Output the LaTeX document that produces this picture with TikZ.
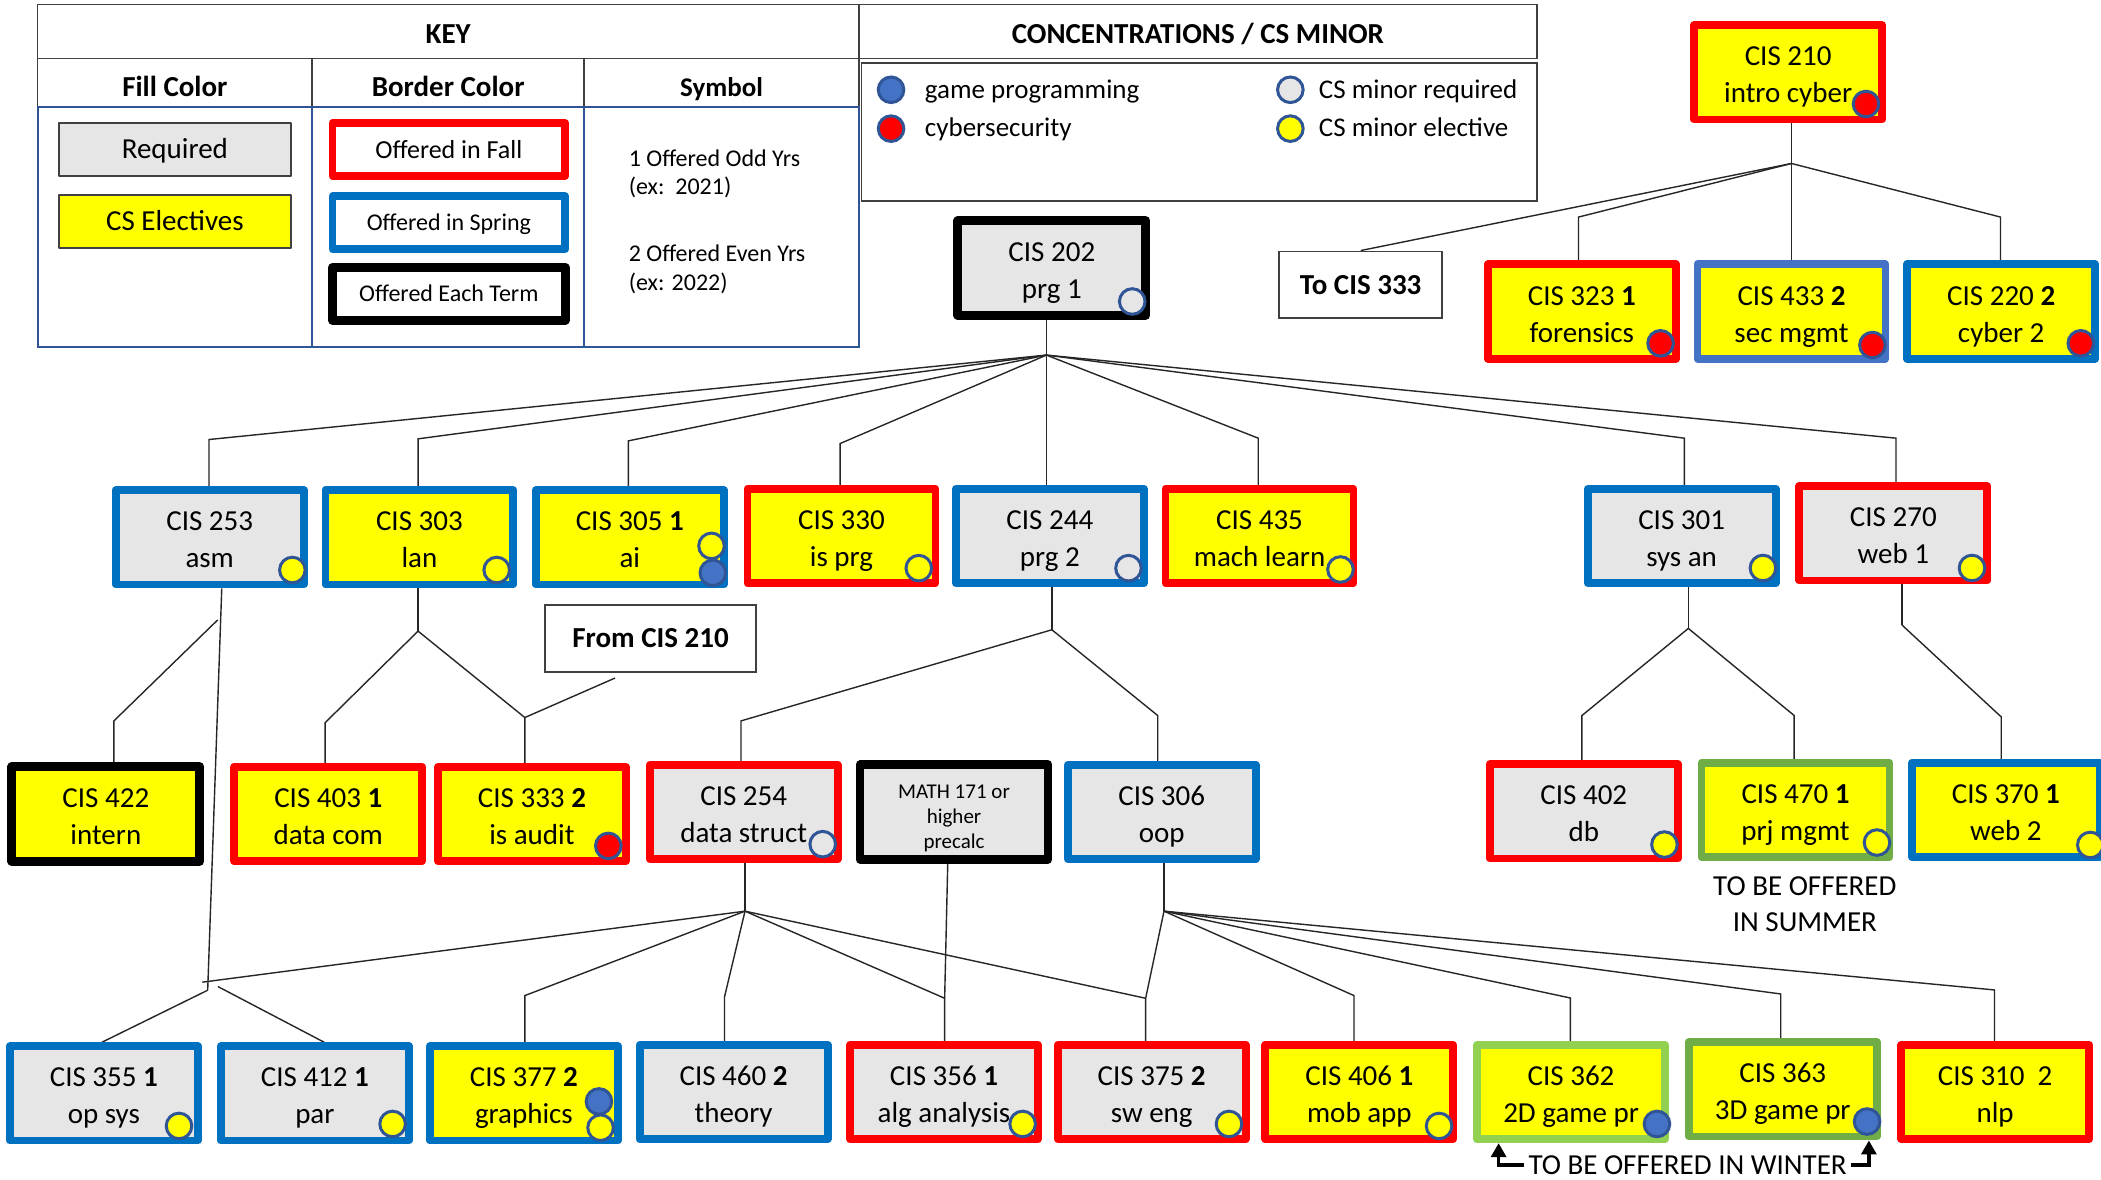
\documentclass[tikz,border=0pt]{standalone}
\usepackage{fontspec}
\setmainfont{Carlito}
\usetikzlibrary{arrows.meta,calc,backgrounds}
\definecolor{cred}{RGB}{255,0,0}
\definecolor{cblue}{RGB}{0,112,192}
\definecolor{cblue2}{RGB}{68,114,196}
\definecolor{cgreen}{RGB}{112,173,71}
\definecolor{clgreen}{RGB}{146,208,80}
\definecolor{cyel}{RGB}{255,255,0}
\definecolor{cgray}{RGB}{231,230,230}
\definecolor{cdotb}{RGB}{47,85,151}
\definecolor{cline}{RGB}{64,64,64}
\definecolor{ckeyb}{RGB}{47,85,151}
\newcommand\two[2]{\rule{0pt}{13pt}#1\\\smash{#2}\rule[-1pt]{0pt}{1pt}}
\newcommand\crs[6]{\node[cbox,#4] (#1) at (#2,#3) {\two{#5}{#6}};}
\begin{document}
\begin{tikzpicture}[x=0.67pt,y=-0.67pt,
  cbox/.style={rectangle, line width=3.9pt, line join=round, minimum width=94pt, minimum height=47.2pt, inner sep=0pt, align=center, font=\fontsize{14.5}{18.5}\selectfont},
  yel/.style={fill=cyel}, gry/.style={fill=cgray},
  bR/.style={draw=cred}, bB/.style={draw=cblue}, bB2/.style={draw=cblue2}, bK/.style={draw=black, line width=4.4pt}, bG/.style={draw=cgreen}, bLG/.style={draw=clgreen},
  dotbase/.style={circle, draw=cdotb, line width=1.5pt, minimum size=12.8pt, inner sep=0pt},
  dY/.style={dotbase, fill=cyel}, dB/.style={dotbase, fill=cblue2}, dR/.style={dotbase, fill=cred}, dG/.style={dotbase, fill=cgray},
  conn/.style={draw=black!85, line width=0.7pt},
  tline/.style={draw=cline, line width=0.8pt},
  bline/.style={draw=ckeyb, line width=1pt},
  lbl/.style={inner sep=0pt, anchor=base},
  lblw/.style={inner sep=0pt, anchor=base west},
  hfont/.style={font=\bfseries\fontsize{14.5}{17}\selectfont},
  keybox/.style={rectangle, minimum width=116.3pt, minimum height=26.5pt, inner sep=0pt, text height=9pt, text depth=0pt, line join=round, font=\fontsize{14.5}{17}\selectfont},
  tbox/.style={rectangle, draw=cline, line width=0.9pt, fill=white, font=\bfseries\fontsize{14.5}{17}\selectfont, inner sep=0pt, text height=9.3pt, text depth=0pt},
  warrow/.style={draw=black, line width=1.7pt, -{Triangle[length=7pt,width=7.5pt]}}
]
\useasboundingbox (0,0) rectangle (1568,880);

% ---------- KEY table ----------
\draw[tline] (28,3.5) rectangle (641,43.8);
\draw[tline] (28,43.8) rectangle (641,79.6);
\draw[tline] (233,43.8) -- (233,79.6) (436,43.8) -- (436,79.6);
\draw[bline] (28,79.6) rectangle (641,259);
\draw[bline] (233,79.6) -- (233,259) (436,79.6) -- (436,259);
\node[lbl,hfont] (tkey) at (334.5,32.3) {KEY};
\node[lbl,hfont] (tfill) at (130.5,72) {Fill Color};
\node[lbl,hfont] (tborder) at (334.5,72) {Border Color};
\node[lbl,font=\bfseries\fontsize{13.5}{16}\selectfont] (tsym) at (538.5,72) {Symbol};

\node[keybox, fill=cgray, draw=cline, line width=1pt] (kreq) at (130.5,111.7) {Required};
\node[keybox, fill=cyel, draw=cline, line width=1pt] (kele) at (130.5,165.5) {CS Electives};
\node[keybox, fill=white, draw=cred, line width=3.9pt, font=\fontsize{13}{16}\selectfont] (kfall) at (335,111.5) {Offered in Fall};
\node[keybox, fill=white, draw=cblue, line width=3.9pt, font=\fontsize{12}{15}\selectfont, text height=7.7pt] (kspr) at (335,166.3) {Offered in Spring};
\node[keybox, fill=white, draw=black, line width=4.4pt, font=\fontsize{12}{15}\selectfont, text height=7.7pt] (kterm) at (335,219.3) {Offered Each Term};

\node[lblw,font=\fontsize{12}{15}\selectfont] (s1) at (469,124) {1 Offered Odd Yrs};
\node[lblw,font=\fontsize{12}{15}\selectfont] (s2) at (469,145.5) {(ex:\ \ 2021)};
\node[lblw,font=\fontsize{12}{15}\selectfont] (s3) at (469,195.3) {2 Offered Even Yrs};
\node[lblw,font=\fontsize{12}{15}\selectfont] (s4) at (469,217) {(ex: 2022)};

% ---------- Concentrations ----------
\draw[tline] (641,3.5) rectangle (1147,43.8);
\draw[tline] (643,46.8) rectangle (1147,149.8);
\node[lbl,hfont] (tconc) at (894,32.3) {CONCENTRATIONS / CS MINOR};
\node[dB] (lg1) at (665,67) {};
\node[dR] (lg2) at (665,96) {};
\node[dG] (lg3) at (963,67) {};
\node[dY] (lg4) at (963,96) {};
\node[lblw,font=\fontsize{13.5}{16}\selectfont] (lt1) at (690,73.4) {game programming};
\node[lblw,font=\fontsize{13.5}{16}\selectfont] (lt2) at (690,102) {cybersecurity};
\node[lblw,font=\fontsize{13.5}{16}\selectfont] (lt3) at (984,73.4) {CS minor required};
\node[lblw,font=\fontsize{13.5}{16}\selectfont] (lt4) at (984,102) {CS minor elective};

% ---------- Course boxes ----------
\crs{n210}{1334.5}{54}{yel,bR}{CIS 210}{intro cyber}
\crs{n202}{785}{200}{gry,bK}{CIS 202}{prg 1}
\node[tbox, minimum width=81.5pt, minimum height=33.3pt] (to333) at (1015.5,212.5) {To CIS 333};
\crs{n323}{1180.5}{232.5}{yel,bR}{CIS 323 \textbf{1}}{forensics}
\crs{n433}{1337}{232.5}{yel,bB2}{CIS 433 \textbf{2}}{sec mgmt}
\crs{n220}{1493.5}{232.5}{yel,bB}{CIS 220 \textbf{2}}{cyber 2}

\crs{n253}{156.5}{401}{gry,bB}{CIS 253}{asm}
\crs{n303}{313}{401}{yel,bB}{CIS 303}{lan}
\crs{n305}{470}{401}{yel,bB}{CIS 305 \textbf{1}}{ai}
\crs{n330}{628}{400}{yel,bR}{CIS 330}{is prg}
\crs{n244}{783.5}{400}{gry,bB}{CIS 244}{prg 2}
\crs{n435}{940}{400}{yel,bR}{CIS 435}{mach learn}
\crs{n301}{1255}{400}{gry,bB}{CIS 301}{sys an}
\crs{n270}{1413}{398}{gry,bR}{CIS 270}{web 1}
\node[tbox, minimum width=105.7pt, minimum height=33.3pt] (from210) at (485.5,476.5) {From CIS 210};

\crs{n422}{79}{607.5}{yel,bK}{CIS 422}{intern}
\crs{n403}{245}{607.5}{yel,bR}{CIS 403 \textbf{1}}{data com}
\crs{n333}{397}{607.5}{yel,bR}{CIS 333 \textbf{2}}{is audit}
\crs{n254}{555}{606}{gry,bR}{CIS 254}{data struct}
\node[cbox, gry, bK, font=\fontsize{10.5}{12.7}\selectfont] (math) at (712,606) {\rule{0pt}{11.4pt}MATH 171 or\\higher\\\smash{precalc}};
\crs{n306}{867}{606}{gry,bB}{CIS 306}{oop}
\crs{n402}{1182}{605.5}{gry,bR}{CIS 402}{db}
\crs{n470}{1340}{604.5}{yel,bG}{CIS 470 \textbf{1}}{prj mgmt}
\crs{n370}{1497}{604.5}{yel,bB}{CIS 370 \textbf{1}}{web 2}
\node[align=center, inner sep=0pt, font=\fontsize{14.5}{18}\selectfont] (summer) at (1347,674.5) {TO BE OFFERED\\IN SUMMER};

\crs{n355}{77.5}{816}{gry,bB}{CIS 355 \textbf{1}}{op sys}
\crs{n412}{235}{816}{gry,bB}{CIS 412 \textbf{1}}{par}
\crs{n377}{391}{816}{yel,bB}{CIS 377 \textbf{2}}{graphics}
\crs{n460}{547.5}{815}{gry,bB}{CIS 460 \textbf{2}}{theory}
\crs{n356}{704.5}{815}{gry,bR}{CIS 356 \textbf{1}}{alg analysis}
\crs{n375}{859.5}{815}{gry,bR}{CIS 375 \textbf{2}}{sw eng}
\crs{n406}{1014.5}{815}{yel,bR}{CIS 406 \textbf{1}}{mob app}
\crs{n362}{1172.5}{815}{yel,bLG}{CIS 362}{2D game pr}
\crs{n363}{1330.5}{813}{yel,bG}{CIS 363}{3D game pr}
\crs{n310}{1489}{815}{yel,bR}{CIS 310\ \ 2}{nlp}
\node[inner sep=2pt, text height=9.3pt, text depth=0pt, font=\fontsize{14.5}{17}\selectfont] (winter) at (1259.5,869.5) {TO BE OFFERED IN WINTER};

% ---------- dots ----------
\node[dG] (d202) at (845,225) {};
\node[dR] (d210) at (1392.6,77.6) {};
\node[dR] (d323) at (1239.3,256.2) {};
\node[dR] (d433) at (1397.4,257.5) {};
\node[dR] (d220) at (1552.9,256.2) {};
\node[dY] (d253) at (218.2,425.4) {};
\node[dY] (d303) at (370.7,425.4) {};
\node[dY] (d305a) at (531,407.4) {};
\node[dB] (d305b) at (532,427.5) {};
\node[dY] (d330) at (685.7,424) {};
\node[dG] (d244) at (842.2,424) {};
\node[dY] (d435) at (1000.4,425) {};
\node[dY] (d301) at (1315.7,423.9) {};
\node[dY] (d270) at (1471.7,423.9) {};
\node[dR] (d333) at (454,631.3) {};
\node[dG] (d254) at (614,630) {};
\node[dY] (d402) at (1242.2,630.3) {};
\node[dY] (d470) at (1400.8,628.8) {};
\node[dY] (d370) at (1560,630.6) {};
\node[dY] (d355) at (133.6,840.3) {};
\node[dY] (d412) at (293,838.8) {};
\node[dB] (d377a) at (447,822) {};
\node[dY] (d377b) at (448.2,841.6) {};
\node[dY] (d356) at (763.2,838.8) {};
\node[dY] (d375) at (917.2,838.8) {};
\node[dY] (d406) at (1074,840.3) {};
\node[dB] (d362) at (1236.6,838.8) {};
\node[dB] (d363) at (1393.4,837) {};

% ---------- winter arrows ----------
\draw[warrow] (winter.west) -| ($(n362.south west)+(19,0)$);
\draw[warrow] (winter.east) -| ($(n363.south east)+(-8.8,0)$);

% ---------- connectors ----------
\begin{pgfonlayer}{background}
\fill[white] (0,0) rectangle (1568,880);
\coordinate (H1) at (781,265);
\coordinate (c253) at (156,328);
\coordinate (c303) at (312,327.5);
\coordinate (c305) at (469,329);
\coordinate (c330) at (627,331);
\coordinate (c435) at (939,327);
\coordinate (c301) at (1257,327);
\coordinate (c270) at (1415,327);
\coordinate (H2) at (1337,122);
\coordinate (c323) at (1178,162);
\coordinate (c220) at (1493,162);
\coordinate (H3) at (155,739);
\coordinate (H3a) at (151,733);
\coordinate (H3b) at (162.7,736.3);
\coordinate (c422a) at (162.4,462.7);
\coordinate (c422) at (85,538);
\coordinate (H4) at (312,471);
\coordinate (c403) at (242.6,539.4);
\coordinate (c333) at (391.7,535.5);
\coordinate (H5) at (785,470);
\coordinate (c254) at (553,538);
\coordinate (c306) at (864,534);
\coordinate (H6) at (1260,469);
\coordinate (c402) at (1180.6,534);
\coordinate (c470) at (1339,534);
\coordinate (H9) at (1419.5,466.5);
\coordinate (c370) at (1493.5,535);
\coordinate (H7) at (556,680);
\coordinate (c377) at (391.7,743);
\coordinate (c460) at (540.7,744);
\coordinate (c356) at (705,745);
\coordinate (c375) at (855,745);
\coordinate (H8) at (868.7,680);
\coordinate (c406) at (1010.5,743);
\coordinate (c362) at (1172,744.8);
\coordinate (c363) at (1329,741.8);
\coordinate (c310) at (1488.5,738.8);

\draw[conn] (H1 |- n202.south) -- (H1 |- n244.north);
\foreach \c/\n in {c253/n253,c303/n303,c305/n305,c330/n330,c435/n435,c301/n301,c270/n270}
  \draw[conn] (H1) -- (\c) -- (\c |- \n.north);

\draw[conn] (H2 |- n210.south) -- (H2 |- n433.north);
\draw[conn] (H2) -- (to333.north);
\draw[conn] (H2) -- (c323) -- (c323 |- n323.north);
\draw[conn] (H2) -- (c220) -- (c220 |- n220.north);

\draw[conn] ($(n253.south)+(9,0)$) -- (H3);
\draw[conn] (c422a) -- (c422) -- (c422 |- n422.north);
\draw[conn] (H3) -- ($(n355.north)+(-1.5,0)$);
\draw[conn] (H3b) -- ($(n412.north)+(7,0)$);

\draw[conn] (H4 |- n303.south) -- (H4);
\draw[conn] (H4) -- (c403) -- (c403 |- n403.north);
\draw[conn] (H4) -- (c333) -- (c333 |- n333.north);
\draw[conn] ($(from210.south)+(-26.5,4)$) -- (c333);

\draw[conn] (H5 |- n244.south) -- (H5);
\draw[conn] (H5) -- (c254) -- (c254 |- n254.north);
\draw[conn] (H5) -- (c306) -- (c306 |- n306.north);

\draw[conn] (H6 |- n301.south) -- (H6);
\draw[conn] (H6) -- (c402) -- (c402 |- n402.north);
\draw[conn] (H6) -- (c470) -- (c470 |- n470.north);

\draw[conn] (H9 |- n270.south) -- (H9);
\draw[conn] (H9) -- (c370) -- (c370 |- n370.north);

\draw[conn] (H7 |- n254.south) -- (H7);
\draw[conn] (H7) -- (H3a);
\foreach \c/\n in {c377/n377,c460/n460,c356/n356,c375/n375}
  \draw[conn] (H7) -- (\c) -- (\c |- \n.north);
\draw[conn] ($(math.south)+(-4.7,0)$) -- (c356);

\draw[conn] (H8 |- n306.south) -- (H8);
\draw[conn] (H8) -- (c375);
\foreach \c/\n in {c406/n406,c362/n362,c363/n363,c310/n310}
  \draw[conn] (H8) -- (\c) -- (\c |- \n.north);
\end{pgfonlayer}
\end{tikzpicture}
\end{document}
